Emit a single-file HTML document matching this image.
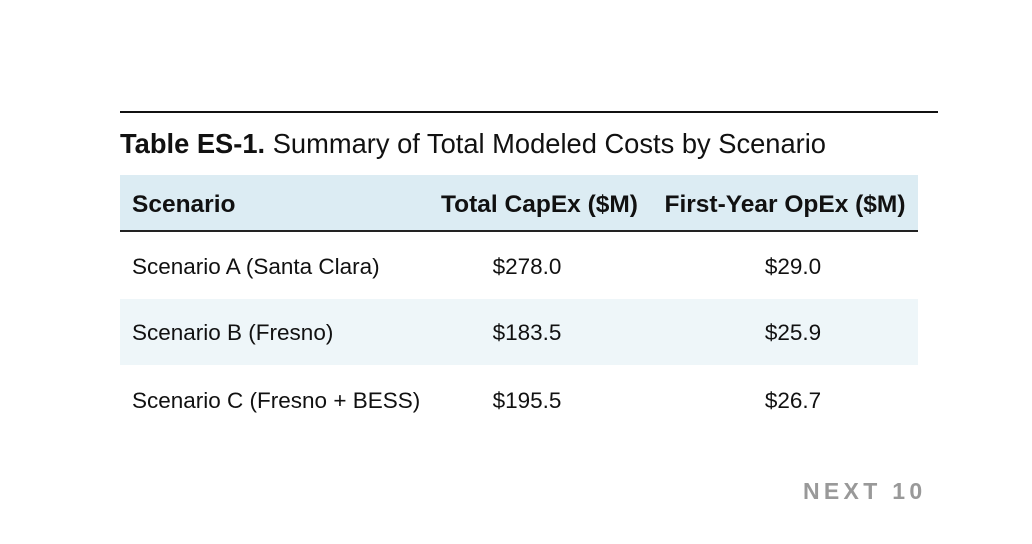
<!DOCTYPE html>
<html><head><style>
body{margin:0;width:1032px;height:544px;background:#fff;position:relative;overflow:hidden;font-family:"Liberation Sans",sans-serif;color:#111}
.a{position:absolute;white-space:nowrap}
</style></head><body>
<div class="a" style="left:120px;top:111px;width:818px;height:2px;background:#111"></div>
<div class="a" style="left:120px;top:127px;font-size:27.3px;line-height:34px"><b>Table ES-1.</b> Summary of Total Modeled Costs by Scenario</div>
<div class="a" style="left:120px;top:175px;width:798px;height:55px;background:#dcecf3"></div>
<div class="a" style="left:120px;top:230px;width:798px;height:1.5px;background:#222"></div>
<div class="a" style="left:120px;top:299px;width:798px;height:66px;background:#eef6f9"></div>
<div class="a" style="left:132px;top:190px;font-size:24.5px;font-weight:bold;line-height:30px">Scenario</div>
<div class="a" style="left:432px;top:190px;font-size:24.5px;font-weight:bold;line-height:30px;width:215px;text-align:center">Total CapEx ($M)</div>
<div class="a" style="left:650px;top:190px;font-size:24.5px;font-weight:bold;line-height:30px;width:270px;text-align:center">First-Year OpEx ($M)</div>
<div class="a" style="left:132px;top:253px;font-size:22.5px;line-height:28px">Scenario A (Santa Clara)</div>
<div class="a" style="left:427px;top:253px;font-size:22.5px;line-height:28px;width:200px;text-align:center">$278.0</div>
<div class="a" style="left:693px;top:253px;font-size:22.5px;line-height:28px;width:200px;text-align:center">$29.0</div>
<div class="a" style="left:132px;top:319px;font-size:22.5px;line-height:28px">Scenario B (Fresno)</div>
<div class="a" style="left:427px;top:319px;font-size:22.5px;line-height:28px;width:200px;text-align:center">$183.5</div>
<div class="a" style="left:693px;top:319px;font-size:22.5px;line-height:28px;width:200px;text-align:center">$25.9</div>
<div class="a" style="left:132px;top:387px;font-size:22.5px;line-height:28px">Scenario C (Fresno + BESS)</div>
<div class="a" style="left:427px;top:387px;font-size:22.5px;line-height:28px;width:200px;text-align:center">$195.5</div>
<div class="a" style="left:693px;top:387px;font-size:22.5px;line-height:28px;width:200px;text-align:center">$26.7</div>
<div class="a" style="left:803px;top:477px;font-size:23px;font-weight:bold;letter-spacing:4.3px;color:#999;line-height:28px">NEXT 10</div>
</body></html>
